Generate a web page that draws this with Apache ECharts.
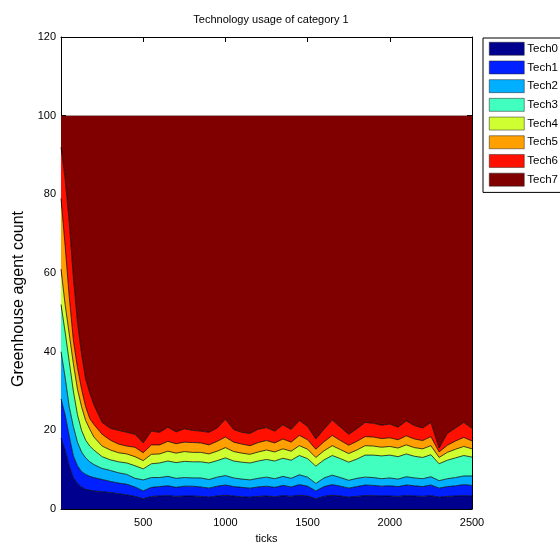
<!DOCTYPE html>
<html>
<head>
<meta charset="utf-8">
<script src="https://cdn.jsdelivr.net/npm/echarts@6/dist/echarts.min.js"></script>
<style>
  html, body { margin: 0; padding: 0; background: #fff; }
  #main { width: 560px; height: 549px; }
</style>
</head>
<body>
<div id="main"></div>
<script>
// simulation ticks (x values)
var ticks = [0, 25, 50, 75, 100, 125, 150, 175, 200, 250, 300, 350, 400,
  450, 500, 550, 600, 650, 700, 750, 800, 850, 900, 950, 1000, 1050, 1100, 1150, 1200,
  1250, 1300, 1350, 1400, 1450, 1500, 1550, 1600, 1650, 1700, 1750, 1800, 1850, 1900,
  1950, 2000, 2050, 2100, 2150, 2200, 2250, 2300, 2350, 2400, 2450, 2500];

var techNames = ["Tech0", "Tech1", "Tech2", "Tech3", "Tech4", "Tech5", "Tech6", "Tech7"];

// agent counts per technology (stacked)
var tech0 = [18, 15, 11, 8, 6.5, 5.6, 5, 4.8, 4.6, 4.4, 4.2, 3.9, 3.6,
  3.2, 2.6, 3.2, 3.3, 3.4, 3.2, 3.3, 3.3, 3.2, 3.0, 3.3, 3.5, 3.3, 3.1, 3.0, 3.2, 3.3, 3.1, 3.4, 3.2,
  3.5, 3.3, 2.6, 3.2, 3.5, 3.3, 3.0, 3.2, 3.4, 3.4, 3.3, 3.3, 3.2, 3.4, 3.3, 3.2, 3.4, 3.0, 3.2, 3.3, 3.4, 3.3];
var tech1 = [10, 9, 7.5, 5.5, 4.5, 3.9, 3.8, 3.5, 3.4, 3.1, 2.8, 2.7, 2.7,
  2.4, 2.0, 2.3, 2.4, 2.5, 2.3, 2.5, 2.5, 2.4, 2.3, 2.5, 2.6, 2.4, 2.4, 2.3, 2.4, 2.5, 2.4, 2.6, 2.4,
  2.7, 2.5, 2.0, 2.5, 2.7, 2.5, 2.3, 2.5, 2.7, 2.6, 2.5, 2.6, 2.5, 2.7, 2.6, 2.5, 2.7, 2.3, 2.5, 2.6, 2.8, 2.7];
var tech2 = [12, 9.5, 7.5, 7.5, 6, 5, 4.2, 3.7, 3.3, 2.8, 2.8, 2.6, 2.5,
  2.2, 2.8, 2.5, 2.3, 2.4, 2.3, 2.2, 2.1, 2.3, 2.2, 2.3, 2.4, 2.2, 2.1, 2.1, 2.2, 2.3, 2.2, 2.3, 2.2,
  2.5, 2.3, 1.9, 2.2, 2.4, 2.2, 2.0, 2.1, 2.0, 2.0, 1.9, 2.0, 1.9, 2.1, 2.0, 2.0, 2.1, 1.9, 2.0, 2.1, 2.2, 2.4];
var tech3 = [12, 11.5, 11.5, 9, 7, 5.5, 4.5, 4, 3.7, 3, 2.7, 2.8, 2.9,
  3.2, 2.8, 3.5, 3.7, 3.9, 4.0, 4.1, 4.1, 4.1, 4.2, 4.2, 4.5, 4.3, 4.3, 4.3, 4.4, 4.5, 4.5, 4.6, 4.6,
  4.9, 4.7, 4.4, 4.6, 5.0, 4.8, 4.6, 4.9, 5.6, 5.7, 5.8, 5.8, 5.7, 5.8, 5.5, 5.4, 5.6, 4.3, 4.7, 5.0, 5.2, 4.8];
var tech4 = [9, 7, 7, 7, 6.5, 6, 5, 4.3, 3.3, 2.7, 2.5, 2.3, 2.3,
  2.3, 2.1, 2.4, 2.3, 2.5, 2.4, 2.5, 2.4, 2.4, 2.3, 2.4, 2.6, 2.4, 2.3, 2.2, 2.3, 2.4, 2.3, 2.4, 2.3,
  2.5, 2.4, 2.2, 2.3, 2.5, 2.3, 2.2, 2.3, 2.4, 2.3, 2.2, 2.2, 2.2, 2.3, 2.2, 2.2, 2.3, 1.6, 2.0, 2.2, 2.3, 2.1];
var tech5 = [18, 15, 9.5, 6, 5.5, 4.5, 3.5, 2.7, 3.2, 3, 2.5, 2.2, 2,
  2.4, 2.0, 2.4, 2.3, 2.5, 2.4, 2.4, 2.5, 2.4, 2.3, 2.5, 2.7, 2.4, 2.3, 2.2, 2.4, 2.4, 2.3, 2.5, 2.3,
  2.6, 2.4, 2.1, 2.3, 2.6, 2.3, 2.1, 2.2, 2.3, 2.3, 2.2, 2.2, 2.1, 2.3, 2.2, 2.1, 2.3, 1.4, 1.8, 2.1, 2.3, 2.0];
var tech6 = [13, 17, 19, 16, 11.5, 9, 7, 6.5, 5, 3, 3, 3.5, 3.5,
  3.3, 2.5, 3.5, 3.2, 3.6, 3.0, 3.4, 3.1, 3.0, 3.2, 3.4, 4.5, 3.2, 3.0, 3.1, 3.4, 3.3, 3.0, 3.6, 3.2,
  3.8, 3.4, 2.6, 3.2, 3.9, 3.4, 2.8, 3.2, 3.6, 3.5, 3.4, 3.5, 3.2, 3.8, 3.4, 3.2, 3.6, 1.0, 3.0, 3.3, 3.8, 3.2];
var tech7 = [8, 16, 27, 41, 52.5, 60.5, 67, 70.5, 73.5, 78, 79.5, 80, 80.5,
  81, 83.2, 80.2, 80.5, 79.2, 80.4, 79.6, 80, 80.2, 80.5, 79.4, 77.2, 79.8, 80.5, 80.8, 79.7, 79.3, 80.2, 78.6, 79.8,
  77.5, 79, 82.2, 79.7, 77.4, 79.2, 81, 79.6, 78, 78.2, 78.7, 78.4, 79.2, 77.6, 78.8, 79.4, 78, 84.5, 80.8, 79.4, 78, 79.5];

var yTicks = [0, 20, 40, 60, 80, 100, 120];

// jet colormap, 8 levels
var colors = ["#00008f", "#0020ff", "#00afff", "#40ffbf", "#cfff30", "#ff9f00", "#ff1000", "#800000"];

var allTech = [tech0, tech1, tech2, tech3, tech4, tech5, tech6, tech7];

var font = "Liberation Sans, Arial, sans-serif";

// value first so that the stack runs on y (x is a value axis too)
var series = techNames.map(function (name, i) {
  return {
    name: name,
    type: "line",
    stack: "total",
    showSymbol: false,
    symbol: "none",
    color: colors[i],
    areaStyle: { color: colors[i], opacity: 1 },
    lineStyle: { color: "#000", width: 0.8, opacity: i === 7 ? 0.3 : 0.9 },
    encode: { x: 1, y: 0 },
    data: ticks.map(function (t, k) { return [allTech[i][k], t]; }),
    z: 2
  };
});

var myChart = echarts.init(document.getElementById("main"), null, { renderer: "canvas" });

var boxAxisLine = { show: true, onZero: false, lineStyle: { color: "#000", width: 1 } };
var boxTick = { show: true, inside: true, length: 5, lineStyle: { color: "#000" } };

myChart.setOption({
  animation: false,
  backgroundColor: "#fff",
  title: {
    text: "Technology usage of category 1",
    left: 266,
    textAlign: "center",
    top: 9,
    textStyle: { fontFamily: font, fontSize: 11, fontWeight: "normal", color: "#000" }
  },
  legend: {
    data: techNames.map(function (n, i) {
      return { name: n, itemStyle: { color: colors[i], borderColor: "#222", borderWidth: 0.5 } };
    }),
    orient: "vertical",
    left: 483,
    top: 38,
    padding: [4, 40, 6, 6],
    itemWidth: 35,
    itemHeight: 13,
    itemGap: 5.2,
    icon: "rect",
    borderColor: "#000",
    borderWidth: 1,
    textStyle: { fontFamily: font, fontSize: 11.5, color: "#000", lineHeight: 13, padding: [0, 0, 0, -2] }
  },
  grid: { left: 61, right: 88, top: 37, bottom: 36 },
  xAxis: [
    {
      type: "value",
      min: 0,
      max: 2500,
      interval: 500,
      name: "ticks",
      nameLocation: "middle",
      nameGap: 24,
      nameTextStyle: { fontFamily: font, fontSize: 11, color: "#000" },
      axisLine: boxAxisLine,
      axisTick: boxTick,
      axisLabel: {
        showMinLabel: false, fontFamily: font, fontSize: 11, color: "#000", margin: 8,
        formatter: function (v) { return String(v); }
      },
      splitLine: { show: false }
    },
    {
      type: "value",
      position: "top",
      min: 0,
      max: 2500,
      interval: 500,
      axisLine: boxAxisLine,
      axisTick: boxTick,
      axisLabel: { show: false },
      splitLine: { show: false }
    }
  ],
  yAxis: [
    {
      type: "value",
      min: yTicks[0],
      max: yTicks[yTicks.length - 1],
      interval: 20,
      name: "Greenhouse agent count",
      nameLocation: "middle",
      nameRotate: 90,
      nameGap: 33,
      nameTextStyle: { fontFamily: font, fontSize: 16, color: "#000", padding: [0, 52, 0, 0] },
      axisLine: boxAxisLine,
      axisTick: boxTick,
      axisLabel: { fontFamily: font, fontSize: 11, color: "#000", margin: 5 },
      splitLine: { show: false }
    },
    {
      type: "value",
      position: "right",
      min: 0,
      max: 120,
      interval: 20,
      axisLine: boxAxisLine,
      axisTick: boxTick,
      axisLabel: { show: false },
      splitLine: { show: false }
    }
  ],
  series: series
});
</script>
</body>
</html>
